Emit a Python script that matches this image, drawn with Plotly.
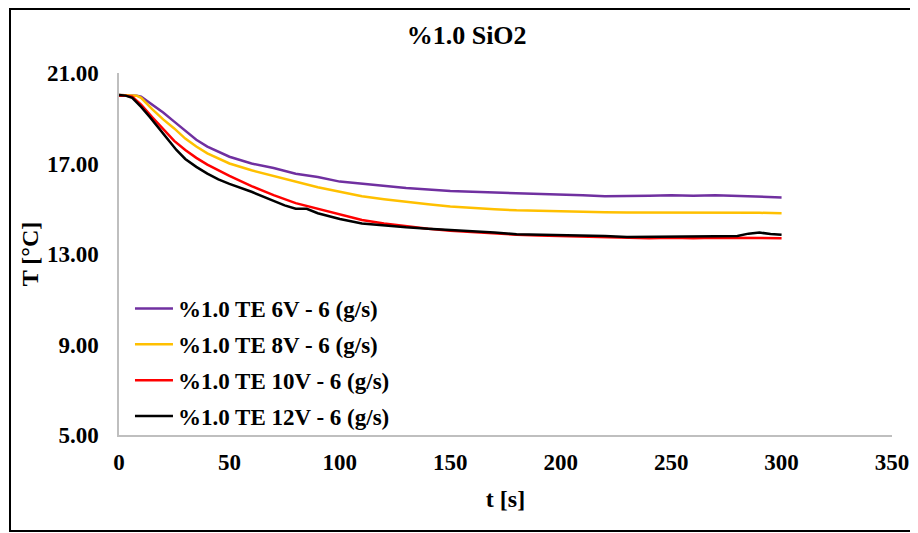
import plotly.graph_objects as go

# ---- data ----
t_6v = [0, 5, 8, 10, 15, 20, 25, 30, 35, 40, 50, 60, 70, 80, 90, 100, 110, 120, 130, 140, 150,
        160, 170, 180, 190, 200, 210, 220, 230, 240, 250, 260, 270, 280, 290, 300]
T_6v = [20.03, 20.03, 20.0, 19.95, 19.6, 19.25, 18.85, 18.45, 18.05, 17.75, 17.3, 17.0, 16.8, 16.55,
        16.4, 16.2, 16.1, 16.0, 15.92, 15.85, 15.78, 15.75, 15.72, 15.7, 15.67, 15.65, 15.6, 15.55,
        15.55, 15.58, 15.6, 15.58, 15.6, 15.57, 15.53, 15.5]

t_8v = [0, 5, 8, 10, 15, 20, 25, 30, 35, 40, 50, 60, 70, 80, 90, 100, 110, 120, 130, 140, 150,
        160, 170, 180, 190, 200, 210, 220, 230, 240, 250, 260, 270, 280, 290, 300]
T_8v = [20.03, 20.03, 20.0, 19.9, 19.4, 18.95, 18.55, 18.1, 17.75, 17.45, 17.0, 16.7, 16.45, 16.2,
        15.95, 15.75, 15.55, 15.42, 15.3, 15.2, 15.1, 15.03, 14.98, 14.93, 14.9, 14.88, 14.86, 14.84,
        14.83, 14.83, 14.84, 14.85, 14.84, 14.83, 14.82, 14.8]

t_10v = [0, 3, 6, 10, 15, 20, 25, 30, 35, 40, 50, 60, 70, 80, 90, 100, 110, 120, 130, 140, 150,
         160, 170, 180, 190, 200, 210, 220, 230, 240, 250, 260, 270, 280, 290, 300]
T_10v = [20.0, 20.0, 19.95, 19.6, 19.05, 18.5, 18.0, 17.6, 17.25, 16.95, 16.45, 16.0, 15.6, 15.25,
         15.0, 14.75, 14.5, 14.35, 14.22, 14.12, 14.03, 13.97, 13.9, 13.85, 13.82, 13.8, 13.78, 13.76,
         13.72, 13.7, 13.72, 13.7, 13.72, 13.72, 13.7, 13.7]

t_12v = [0, 3, 6, 10, 14, 18, 22, 26, 30, 35, 40, 45, 50, 60, 70, 75, 80, 85, 90, 100, 110, 120,
         130, 140, 150, 160, 170, 180, 190, 200, 210, 220, 230, 240, 250, 260, 270, 280, 285, 290,
         295, 300]
T_12v = [20.03, 20.0, 19.9, 19.5, 19.05, 18.55, 18.05, 17.6, 17.2, 16.85, 16.55, 16.3, 16.1, 15.75,
         15.35, 15.15, 15.0, 15.0, 14.8, 14.55, 14.35, 14.25, 14.18, 14.12, 14.07, 14.0, 13.95, 13.87,
         13.85, 13.85, 13.82, 13.8, 13.75, 13.75, 13.76, 13.75, 13.78, 13.8, 13.9, 13.95, 13.88, 13.85]

series_names = ["%1.0 TE 6V - 6 (g/s)", "%1.0 TE 8V - 6 (g/s)",
                "%1.0 TE 10V - 6 (g/s)", "%1.0 TE 12V - 6 (g/s)"]
series_colors = ["#7030A0", "#FFC000", "#FF0000", "#000000"]
x_ticks = [0, 50, 100, 150, 200, 250, 300, 350]
y_ticks = [5, 9, 13, 17, 21]

FONT = "Liberation Serif, Times New Roman, DejaVu Serif, serif"

fig = go.Figure()
for i, (tx, ty) in enumerate([(t_6v, T_6v), (t_8v, T_8v), (t_10v, T_10v), (t_12v, T_12v)]):
    fig.add_trace(go.Scatter(x=tx, y=ty, mode="lines", name=series_names[i],
                             legendgroup=f"g{i}",
                             line=dict(color=series_colors[i], width=2.5)))

W, H = 910, 525
L, R, T, B = 111, 26, 65, 98
fig.update_layout(
    width=W, height=H,
    margin=dict(l=L, r=R, t=T, b=B),
    paper_bgcolor="white", plot_bgcolor="white",
    font=dict(family=FONT, color="black"),
    title=dict(text="<b>%1.0 SiO2</b>", x=0.504, xanchor="center", y=1 - 27 / H, yanchor="middle",
               font=dict(family=FONT, size=26, color="black")),
    showlegend=True,
    legend=dict(x=0.0142, y=0.409, xanchor="left", yanchor="top",
                traceorder="grouped", tracegroupgap=3, itemwidth=38,
                font=dict(family=FONT, size=23, color="black", weight="bold"),
                bgcolor="rgba(0,0,0,0)"),
    xaxis=dict(range=[0, 350], tickvals=x_ticks, showgrid=False, zeroline=False,
               showline=True, linecolor="#BFBFBF", linewidth=1.5, automargin=False,
               ticks="", ticklabelstandoff=6,
               tickfont=dict(family=FONT, size=23, color="black", weight="bold"),
               title=dict(text="<b>t [s]</b>", standoff=16,
                          font=dict(family=FONT, size=24, color="black"))),
    yaxis=dict(range=[5, 21], tickvals=y_ticks, tickformat=".2f", showgrid=False, zeroline=False,
               showline=True, linecolor="#BFBFBF", linewidth=1.5, automargin=False,
               ticks="", ticklabelstandoff=14,
               tickfont=dict(family=FONT, size=23, color="black", weight="bold"),
               title=dict(text="<b>T [°C]</b>", standoff=2,
                          font=dict(family=FONT, size=24, color="black"))),
)

# outer chart frame
pw, ph = W - L - R, H - T - B
fig.add_shape(type="rect", xref="paper", yref="paper",
              x0=(2 - L) / pw, x1=(W + 10 - L) / pw,
              y0=-(B - 2) / ph, y1=(ph + T - 1) / ph,
              line=dict(color="black", width=2), fillcolor="rgba(0,0,0,0)", layer="below")

fig.write_html("out.html")
